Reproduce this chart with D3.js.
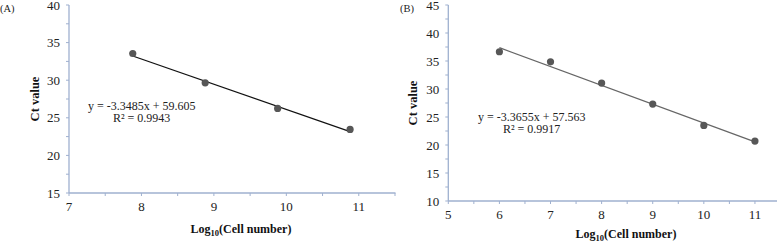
<!DOCTYPE html>
<html><head><meta charset="utf-8">
<script src="https://cdn.jsdelivr.net/npm/d3@7"></script>
<style>
html,body{margin:0;padding:0;background:#fff;}
svg{display:block;font-family:"Liberation Serif","Times New Roman",serif;}
</style></head>
<body>
<svg id="c" width="780" height="242"></svg>
<script>
// Panel A data
const xA = [7.88, 8.88, 9.88, 10.88];
const yA = [33.55, 29.65, 26.25, 23.45];
const slopeA = -3.3485, interceptA = 59.605;
const eqA = "y = -3.3485x + 59.605";
const r2A = "R² = 0.9943";
const xTicksA = [7, 8, 9, 10, 11];
const yTicksA = [15, 20, 25, 30, 35, 40];

// Panel B data
const xB = [6, 7, 8, 9, 10, 11];
const yB = [36.65, 34.85, 31.05, 27.3, 23.5, 20.7];
const slopeB = -3.3655, interceptB = 57.563;
const eqB = "y = -3.3655x + 57.563";
const r2B = "R² = 0.9917";
const xTicksB = [5, 6, 7, 8, 9, 10, 11];
const yTicksB = [10, 15, 20, 25, 30, 35, 40, 45];

const svg = d3.select("#c");
const axisColor = "#9fb0cf";

function panel(cfg) {
  const g = svg.append("g");
  const x = d3.scaleLinear().domain(cfg.xDom).range(cfg.xRange);
  const y = d3.scaleLinear().domain(cfg.yDom).range(cfg.yRange);
  const x0 = cfg.xRange[0], yBase = cfg.yRange[0];

  // minor + major ticks (every half step)
  const xt = d3.range(cfg.xDom[0], cfg.xDom[1] + 0.001, 0.5);
  const yt = d3.range(cfg.yDom[0], cfg.yDom[1] + 0.001, 2.5);
  g.selectAll(".xt").data(xt).join("line")
    .attr("x1", d => x(d)).attr("x2", d => x(d))
    .attr("y1", yBase).attr("y2", yBase + 3)
    .attr("stroke", axisColor).attr("stroke-width", 1);
  g.selectAll(".yt").data(yt).join("line")
    .attr("x1", x0 - 3).attr("x2", x0)
    .attr("y1", d => y(d)).attr("y2", d => y(d))
    .attr("stroke", axisColor).attr("stroke-width", 1);
  // axis lines
  g.append("line").attr("x1", x0).attr("x2", cfg.xEnd)
    .attr("y1", yBase).attr("y2", yBase)
    .attr("stroke", axisColor).attr("stroke-width", 1.3);
  g.append("line").attr("x1", x0).attr("x2", x0)
    .attr("y1", y(cfg.yDom[1])).attr("y2", yBase)
    .attr("stroke", axisColor).attr("stroke-width", 1.3);

  // tick labels
  g.selectAll(".xl").data(cfg.xTicks).join("text")
    .attr("x", d => x(d)).attr("y", yBase + 18)
    .attr("text-anchor", "middle").attr("font-size", 13).attr("fill", "#222")
    .text(d => d);
  g.selectAll(".yl").data(cfg.yTicks).join("text")
    .attr("x", x0 - 9).attr("y", d => y(d) + 4.5)
    .attr("text-anchor", "end").attr("font-size", 13).attr("fill", "#222")
    .text(d => d);

  // axis titles
  const cy = (cfg.yRange[0] + cfg.yRange[1]) / 2;
  g.append("text")
    .attr("transform", `translate(${cfg.yTitleX},${cy}) rotate(-90)`)
    .attr("text-anchor", "middle").attr("font-size", 12.5).attr("font-weight", "bold").attr("fill", "#111")
    .text("Ct value");
  const t = g.append("text").attr("x", cfg.xTitleX).attr("y", cfg.xTitleY)
    .attr("text-anchor", "middle").attr("font-size", 12).attr("font-weight", "bold").attr("fill", "#111");
  t.append("tspan").text("Log");
  t.append("tspan").attr("font-size", 8.5).attr("dy", 2.5).text("10");
  t.append("tspan").attr("dy", -2.5).text("(Cell number)");

  // trend line
  const xs = [d3.min(cfg.xs), d3.max(cfg.xs)];
  g.append("line")
    .attr("x1", x(xs[0])).attr("y1", y(cfg.slope * xs[0] + cfg.intercept))
    .attr("x2", x(xs[1])).attr("y2", y(cfg.slope * xs[1] + cfg.intercept))
    .attr("stroke", cfg.lineColor).attr("stroke-width", 1.3);

  // points
  g.selectAll(".pt").data(cfg.xs.map((v, i) => [v, cfg.ys[i]])).join("circle")
    .attr("cx", d => x(d[0])).attr("cy", d => y(d[1])).attr("r", 3.6)
    .attr("fill", "#575757");

  // equation
  g.append("text").attr("x", cfg.eqX).attr("y", cfg.eqY)
    .attr("font-size", 12).attr("fill", "#222").text(cfg.eq);
  g.append("text").attr("x", cfg.eqX + 25).attr("y", cfg.eqY + 12)
    .attr("font-size", 12).attr("fill", "#222").text(cfg.r2);

  // panel label
  g.append("text").attr("x", cfg.labX).attr("y", cfg.labY)
    .attr("font-size", 10.5).attr("fill", "#222").text(cfg.lab);
}

panel({
  xDom: [7, 11.5], xRange: [69, 395], xEnd: 395.5,
  yDom: [15, 40], yRange: [193, 5],
  xTicks: xTicksA, yTicks: yTicksA,
  xs: xA, ys: yA, slope: slopeA, intercept: interceptA,
  lineColor: "#111", eq: eqA, r2: r2A, eqX: 88, eqY: 110,
  yTitleX: 39, xTitleX: 241, xTitleY: 233,
  lab: "(A)", labX: 0, labY: 12
});

panel({
  xDom: [5, 11.5], xRange: [448.3, 780.5], xEnd: 777,
  yDom: [10, 45], yRange: [201, 5],
  xTicks: xTicksB, yTicks: yTicksB,
  xs: xB, ys: yB, slope: slopeB, intercept: interceptB,
  lineColor: "#666", eq: eqB, r2: r2B, eqX: 478, eqY: 121,
  yTitleX: 417, xTitleX: 626, xTitleY: 238,
  lab: "(B)", labX: 400, labY: 12
});
</script>
</body></html>
